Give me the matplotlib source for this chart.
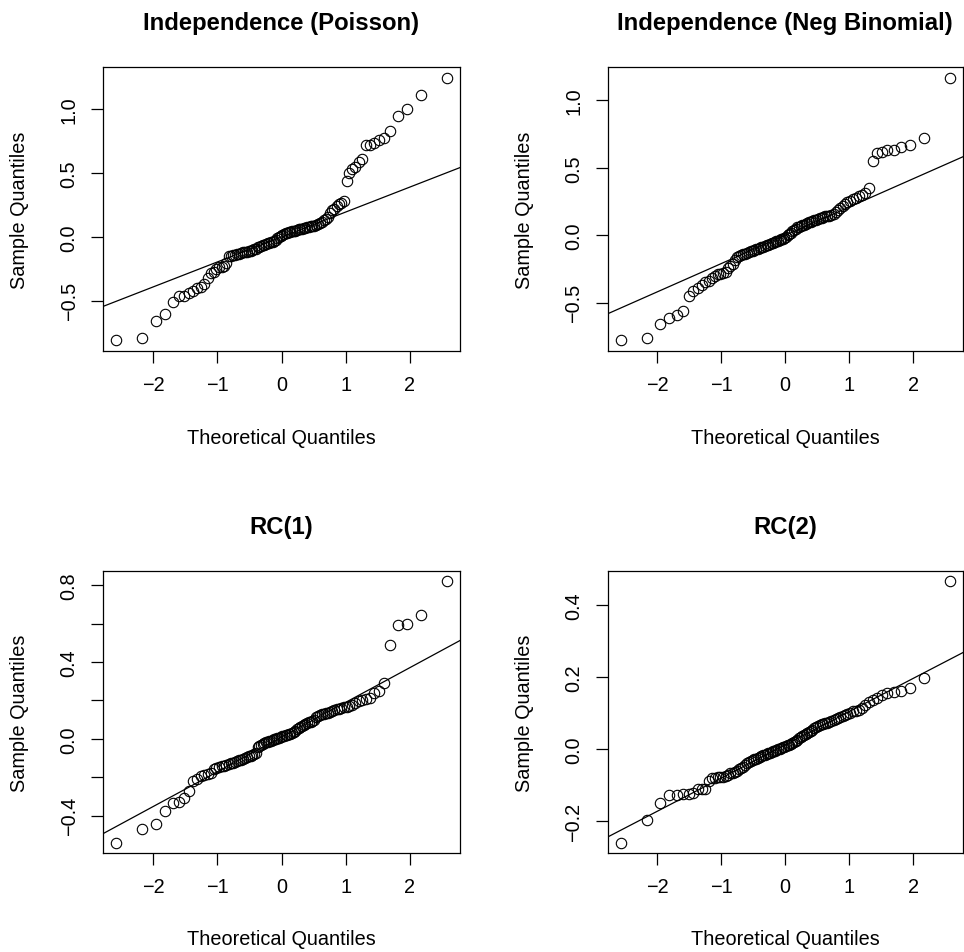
import numpy as np
import matplotlib
matplotlib.use('Agg')
import matplotlib.pyplot as plt
from statistics import NormalDist


# sorted residuals (100 each)
titles = ['Independence (Poisson)', 'Independence (Neg Binomial)', 'RC(1)', 'RC(2)']

pois_resid = [-0.81, -0.79, -0.66, -0.60, -0.51, -0.46, -0.46, -0.44, -0.42, -0.40,
              -0.39, -0.37, -0.32, -0.285, -0.27, -0.25, -0.235, -0.235, -0.225, -0.20,
              -0.15, -0.145, -0.14, -0.14, -0.135, -0.13, -0.125, -0.12, -0.12, -0.115,
              -0.11, -0.11, -0.10, -0.095, -0.09, -0.08, -0.075, -0.07, -0.065, -0.06,
              -0.055, -0.05, -0.045, -0.04, -0.035, -0.03, -0.02, -0.01, 0.00, 0.01,
              0.02, 0.025, 0.03, 0.035, 0.04, 0.04, 0.045, 0.05, 0.05, 0.055,
              0.06, 0.06, 0.065, 0.07, 0.075, 0.08, 0.08, 0.085, 0.09, 0.09,
              0.095, 0.10, 0.11, 0.12, 0.13, 0.14, 0.16, 0.19, 0.21, 0.22,
              0.24, 0.26, 0.27, 0.28, 0.44, 0.50, 0.53, 0.55, 0.59, 0.61,
              0.72, 0.72, 0.74, 0.76, 0.78, 0.83, 0.95, 1.00, 1.11, 1.25]

negbin_resid = [-0.78, -0.76, -0.66, -0.61, -0.59, -0.56, -0.45, -0.41, -0.39, -0.37,
                -0.35, -0.34, -0.32, -0.30, -0.29, -0.285, -0.28, -0.27, -0.245, -0.23,
                -0.21, -0.18, -0.16, -0.155, -0.145, -0.14, -0.135, -0.13, -0.125, -0.12,
                -0.115, -0.11, -0.105, -0.10, -0.095, -0.09, -0.085, -0.08, -0.075, -0.07,
                -0.065, -0.06, -0.055, -0.05, -0.045, -0.04, -0.035, -0.03, -0.025, -0.02,
                -0.01, 0.00, 0.01, 0.02, 0.03, 0.04, 0.05, 0.06, 0.065, 0.07,
                0.075, 0.08, 0.085, 0.09, 0.095, 0.10, 0.105, 0.11, 0.115, 0.12,
                0.125, 0.13, 0.135, 0.14, 0.14, 0.145, 0.15, 0.16, 0.17, 0.185,
                0.20, 0.22, 0.235, 0.245, 0.255, 0.27, 0.28, 0.29, 0.30, 0.31,
                0.35, 0.55, 0.61, 0.62, 0.63, 0.635, 0.655, 0.67, 0.72, 1.17]

rc1_resid = [-0.54, -0.467, -0.444, -0.375, -0.332, -0.327, -0.306, -0.272, -0.22, -0.208,
             -0.195, -0.186, -0.182, -0.177, -0.157, -0.151, -0.148, -0.143, -0.139, -0.135,
             -0.132, -0.128, -0.124, -0.12, -0.116, -0.112, -0.108, -0.104, -0.10, -0.096,
             -0.092, -0.088, -0.084, -0.08, -0.076, -0.045, -0.035, -0.03, -0.026, -0.022,
             -0.019, -0.016, -0.013, -0.01, -0.006, -0.003, 0.0, 0.003, 0.006, 0.009,
             0.012, 0.015, 0.018, 0.021, 0.024, 0.027, 0.03, 0.034, 0.04, 0.05,
             0.055, 0.06, 0.065, 0.07, 0.075, 0.08, 0.085, 0.09, 0.095, 0.10,
             0.115, 0.12, 0.125, 0.128, 0.13, 0.133, 0.136, 0.14, 0.145, 0.15,
             0.153, 0.156, 0.16, 0.163, 0.166, 0.172, 0.178, 0.185, 0.195, 0.20,
             0.205, 0.21, 0.24, 0.25, 0.29, 0.49, 0.593, 0.598, 0.645, 0.819]

rc2_resid = [-0.26, -0.198, -0.151, -0.128, -0.128, -0.124, -0.124, -0.122, -0.112, -0.112,
             -0.110, -0.089, -0.082, -0.080, -0.078, -0.078, -0.077, -0.075, -0.073, -0.068,
             -0.066, -0.064, -0.060, -0.057, -0.053, -0.050, -0.045, -0.040, -0.036, -0.033,
             -0.031, -0.029, -0.027, -0.025, -0.022, -0.020, -0.018, -0.016, -0.014, -0.012,
             -0.010, -0.009, -0.007, -0.005, -0.003, -0.001, 0.001, 0.003, 0.004, 0.006,
             0.008, 0.010, 0.012, 0.014, 0.017, 0.020, 0.023, 0.026, 0.029, 0.032,
             0.035, 0.038, 0.041, 0.044, 0.047, 0.050, 0.053, 0.057, 0.062, 0.065,
             0.067, 0.068, 0.070, 0.072, 0.073, 0.075, 0.078, 0.080, 0.083, 0.086,
             0.089, 0.092, 0.095, 0.098, 0.101, 0.104, 0.106, 0.109, 0.113, 0.122,
             0.130, 0.136, 0.141, 0.150, 0.154, 0.158, 0.161, 0.170, 0.196, 0.465]

# tick positions (labels) for each y axis
yticks_list = [[-0.5, 0.0, 0.5, 1.0],
               [-0.5, 0.0, 0.5, 1.0],
               [-0.4, -0.2, 0.0, 0.2, 0.4, 0.6, 0.8],
               [-0.2, 0.0, 0.2, 0.4]]
ylabels_list = [['−0.5', '0.0', '0.5', '1.0'],
                ['−0.5', '0.0', '0.5', '1.0'],
                ['−0.4', '', '0.0', '', '0.4', '', '0.8'],
                ['−0.2', '0.0', '0.2', '0.4']]
xticks = [-2, -1, 0, 1, 2]
xticklabels = ['−2', '−1', '0', '1', '2']


def qqnorm_points(y):
    # like R qqnorm: ppoints(n) -> normal quantiles
    n = len(y)
    nd = NormalDist()
    a = 3.0 / 8 if n <= 10 else 0.5
    x = [nd.inv_cdf((i + 1 - a) / (n + 1 - 2 * a)) for i in range(n)]
    return np.array(x), np.sort(np.array(y))


def qqline_coef(y):
    nd = NormalDist()
    yq = np.quantile(y, [0.25, 0.75])
    xq = np.array([nd.inv_cdf(0.25), nd.inv_cdf(0.75)])
    slope = (yq[1] - yq[0]) / (xq[1] - xq[0])
    return yq[0] - slope * xq[0], slope


plt.rcParams['font.family'] = ['Liberation Sans', 'DejaVu Sans']
W, H = 964, 953
fig = plt.figure(figsize=(W / 100, H / 100), dpi=100)

# axes boxes in pixels: left, right, top, bottom
boxes = [(103, 460, 68, 352), (607.5, 963, 68, 352),
         (103, 460, 572, 854), (607.5, 963, 572, 854)]
all_resid = [pois_resid, negbin_resid, rc1_resid, rc2_resid]

for k in range(4):
    l, r, t, b = boxes[k]
    ax = fig.add_axes([l / W, 1 - b / H, (r - l) / W, (b - t) / H])
    x, y = qqnorm_points(all_resid[k])
    ax.plot(x, y, 'o', mfc='none', mec='black', ms=7.5, mew=0.8)
    a0, b0 = qqline_coef(y)
    ax.axline((0, a0), slope=b0, color='black', lw=0.9)

    # R style 4% padding
    xr = x.max() - x.min()
    yr = y.max() - y.min()
    ax.set_xlim(x.min() - 0.04 * xr, x.max() + 0.04 * xr)
    ax.set_ylim(y.min() - 0.04 * yr, y.max() + 0.04 * yr)

    ax.set_xticks(xticks)
    ax.set_xticklabels(xticklabels)
    ax.set_yticks(yticks_list[k])
    ax.set_yticklabels(ylabels_list[k])
    for lab in ax.get_yticklabels():
        lab.set_rotation(90)
        lab.set_va('center')
        lab.set_ha('right')
    ax.tick_params(direction='out', length=8.6, width=0.9, labelsize=14.3, pad=9)
    for s in ax.spines.values():
        s.set_linewidth(0.9)

    ax.set_xlabel('Theoretical Quantiles', fontsize=14.3)
    ax.set_ylabel('Sample Quantiles', fontsize=14.3)
    ax.xaxis.set_label_coords(0.5, -86.0 / (b - t))
    ax.xaxis.label.set_va('center')
    ax.yaxis.set_label_coords(-83.0 / (r - l), 0.5)
    ax.yaxis.label.set_va('center')

    ax.text(0.5, 1 + 38.0 / (b - t), titles[k], transform=ax.transAxes,
            ha='center', va='baseline', fontsize=17.2, fontweight='bold')

fig.savefig('out.png', dpi=100)
